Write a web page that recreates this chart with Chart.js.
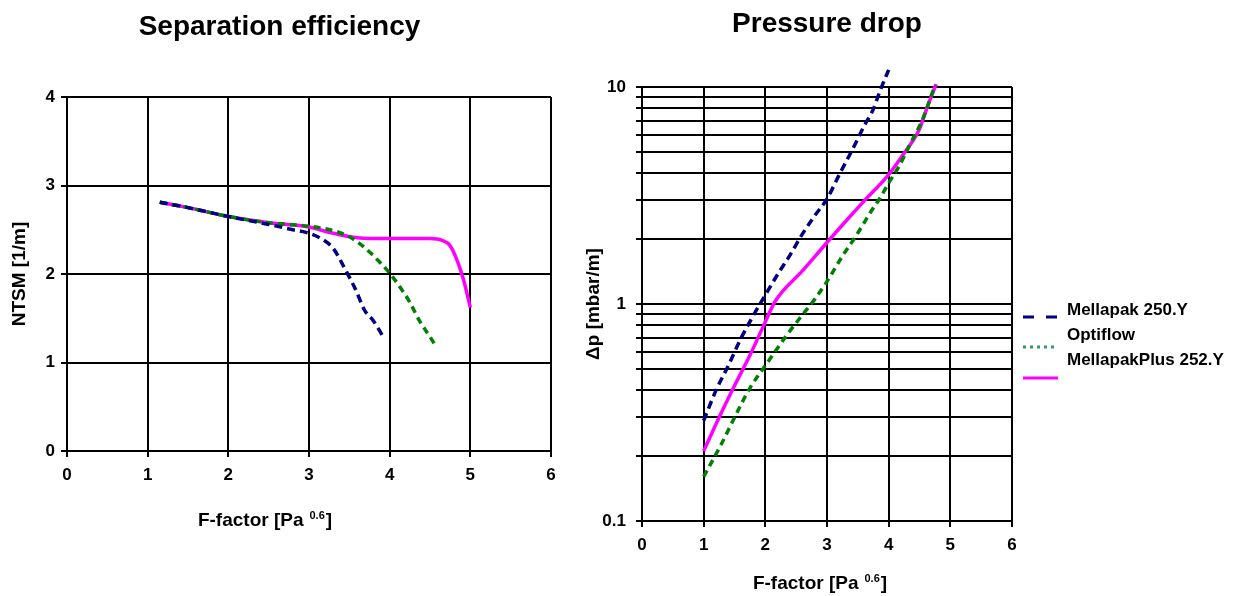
<!DOCTYPE html>
<html>
<head>
<meta charset="utf-8">
<script src="https://cdn.jsdelivr.net/npm/chart.js@4.4.1/dist/chart.umd.min.js"></script>
<style>
html, body { margin: 0; padding: 0; background: #fff; }
#wrap { position: relative; width: 1238px; height: 596px; overflow: hidden; }
#grafica_1 { position: absolute; left: 0; top: 0; }
#grafica_2 { position: absolute; left: 572px; top: 0; }
</style>
</head>
<body>
<div id="wrap">
  <canvas id="grafica_1" width="600" height="596"></canvas>
  <canvas id="grafica_2" width="666" height="596"></canvas>
</div>
<script>
var fam = 'Arial, "Liberation Sans", Helvetica, sans-serif';
Chart.defaults.font.family = fam;
Chart.defaults.color = '#000';
Chart.defaults.animation = false;

var seriesNames = ['Mellapak 250.Y', 'Optiflow', 'MellapakPlus 252.Y'];

// Separation efficiency: F-factor -> NTSM [1/m]
var effF_250 = [1.15, 1.5, 2.0, 2.5, 2.8, 3.0, 3.15, 3.3, 3.45, 3.57, 3.69, 3.8, 3.92];
var effN_250 = [2.81, 2.75, 2.65, 2.56, 2.50, 2.46, 2.40, 2.29, 2.05, 1.84, 1.59, 1.47, 1.29];
var effF_opt = [1.15, 1.5, 2.0, 2.5, 3.0, 3.3, 3.5, 3.7, 3.88, 4.0, 4.13, 4.25, 4.37, 4.5, 4.58];
var effN_opt = [2.81, 2.75, 2.65, 2.58, 2.54, 2.49, 2.42, 2.29, 2.13, 2.01, 1.85, 1.68, 1.47, 1.29, 1.17];
var effF_252 = [1.15, 1.5, 2.0, 2.5, 3.0, 3.3, 3.6, 4.0, 4.5, 4.65, 4.75, 4.85, 4.92, 5.0];
var effN_252 = [2.81, 2.75, 2.65, 2.58, 2.53, 2.46, 2.41, 2.40, 2.40, 2.38, 2.32, 2.12, 1.92, 1.62];

// Pressure drop: F-factor -> dp [mbar/m]
var dpF_250 = [1.0, 1.2, 1.4, 1.6, 1.8, 2.0, 2.2, 2.4, 2.6, 2.8, 3.0, 3.2, 3.45, 3.6, 3.75, 3.86, 4.0];
var dpP_250 = [0.29, 0.40, 0.52, 0.69, 0.88, 1.10, 1.37, 1.68, 2.10, 2.55, 3.05, 3.95, 5.4, 6.6, 7.9, 9.6, 12.0];
var dpF_opt = [1.0, 1.3, 1.55, 1.75, 2.0, 2.35, 2.6, 2.8, 3.0, 3.26, 3.48, 3.7, 3.86, 4.02, 4.18, 4.34, 4.56, 4.72, 4.76];
var dpP_opt = [0.16, 0.23, 0.32, 0.41, 0.52, 0.72, 0.89, 1.05, 1.27, 1.68, 2.08, 2.63, 3.08, 3.69, 4.37, 5.4, 7.2, 9.6, 10.2];
var dpF_252 = [1.0, 1.25, 1.5, 1.75, 1.95, 2.16, 2.6, 3.0, 3.3, 3.6, 4.0, 4.23, 4.5, 4.62, 4.77];
var dpP_252 = [0.21, 0.30, 0.42, 0.58, 0.77, 1.03, 1.42, 1.92, 2.40, 2.98, 3.95, 4.86, 6.4, 8.0, 10.3];

// axis ticks
var fTicks = [0, 1, 2, 3, 4, 5, 6];
var effTicks = [0, 1, 2, 3, 4];
var dpTicks = [0.1, 0.2, 0.3, 0.4, 0.5, 0.6, 0.7, 0.8, 0.9, 1, 2, 3, 4, 5, 6, 7, 8, 9, 10];
var dpLabels = [0.1, 1, 10];

function pts(xs, ys) {
    return xs.map(function (x, i) { return { x: x, y: ys[i] }; });
}
function setTicks(list) {
    return function (scale) {
        scale.ticks = list.map(function (v) { return { value: v }; });
    };
}

// x-axis title with the small raised exponent
var fTitle = {
    id: 'fTitle',
    afterDraw: function (chart, args, o) {
        var ctx = chart.ctx, area = chart.chartArea;
        ctx.save();
        ctx.fillStyle = '#000';
        ctx.textBaseline = 'alphabetic';
        ctx.textAlign = 'left';
        ctx.font = 'bold 19px ' + fam;
        var w1 = ctx.measureText(o.text).width;
        var w3 = ctx.measureText(']').width;
        ctx.font = 'bold 11px ' + fam;
        var w2 = ctx.measureText(o.sup).width;
        var x = area.left + o.dx - (w1 + 6 + w2 + 1 + w3) / 2;
        var y = area.bottom + o.dy;
        ctx.font = 'bold 19px ' + fam;
        ctx.fillText(o.text, x, y);
        ctx.font = 'bold 11px ' + fam;
        ctx.fillText(o.sup, x + w1 + 6, y - 7);
        ctx.font = 'bold 19px ' + fam;
        ctx.fillText(']', x + w1 + 6 + w2 + 1, y);
        ctx.restore();
    }
};

// legend to the right of the pressure drop chart
var sideLegend = {
    id: 'sideLegend',
    afterDraw: function (chart, args, o) {
        var ctx = chart.ctx, area = chart.chartArea;
        chart.data.datasets.forEach(function (ds, i) {
            var x0 = area.right + o.dx;
            ctx.save();
            ctx.strokeStyle = ds.legendColor;
            ctx.lineWidth = 3;
            ctx.setLineDash(ds.legendDash);
            ctx.beginPath();
            ctx.moveTo(x0, o.lineY[i]);
            ctx.lineTo(x0 + o.len, o.lineY[i]);
            ctx.stroke();
            ctx.setLineDash([]);
            ctx.fillStyle = '#000';
            ctx.font = 'bold 17px ' + fam;
            ctx.textBaseline = 'middle';
            ctx.fillText(ds.label, area.right + o.textDx, o.textY[i]);
            ctx.restore();
        });
    }
};

var gridOpts = { color: '#000', lineWidth: 2, tickLength: 6, tickColor: '#000' };
var tickFont = { size: 17, weight: 'bold' };

function lineSet(i, data, color, dash, lColor, lDash) {
    return {
        label: seriesNames[i],
        data: data,
        borderColor: color,
        borderWidth: 3.5,
        borderDash: dash,
        borderCapStyle: 'butt',
        pointRadius: 0,
        fill: false,
        cubicInterpolationMode: 'monotone',
        clip: false,
        legendColor: lColor,
        legendDash: lDash
    };
}

var gx1 = document.getElementById('grafica_1').getContext('2d');
var chart1 = new Chart(gx1, {
    type: 'line',
    data: {
        datasets: [
            lineSet(0, pts(effF_250, effN_250), '#000080', [8, 5], '#000080', [11, 12]),
            lineSet(1, pts(effF_opt, effN_opt), '#008000', [7, 5], '#339966', [3, 4]),
            lineSet(2, pts(effF_252, effN_252), '#ff00ff', [], '#ff00ff', [])
        ]
    },
    options: {
        responsive: false,
        layout: { padding: { left: 8, right: 49, top: 0, bottom: 0 } },
        plugins: {
            legend: { display: false },
            tooltip: { enabled: false },
            title: {
                display: true,
                text: 'Separation efficiency',
                font: { size: 28, weight: 'bold' },
                padding: { top: 10, bottom: 53.4 }
            },
            fTitle: { text: 'F-factor [Pa', sup: '0.6', dx: 198, dy: 75 }
        },
        scales: {
            x: {
                type: 'linear', min: 0, max: 6,
                afterBuildTicks: setTicks(fTicks),
                afterFit: function (s) { s.height = 145; },
                grid: gridOpts,
                border: { color: '#000', width: 2 },
                ticks: { font: tickFont, padding: 8, maxRotation: 0 }
            },
            y: {
                type: 'linear', min: 0, max: 4,
                afterBuildTicks: setTicks(effTicks),
                afterFit: function (s) { s.width = 59; },
                grid: gridOpts,
                border: { color: '#000', width: 2 },
                ticks: { font: tickFont, padding: 6 },
                title: {
                    display: true, text: 'NTSM [1/m]',
                    font: { size: 19, weight: 'bold' },
                    padding: { top: 0, bottom: 0 }
                }
            }
        }
    },
    plugins: [fTitle]
});

var gx2 = document.getElementById('grafica_2').getContext('2d');
var chart2 = new Chart(gx2, {
    type: 'line',
    data: {
        datasets: [
            lineSet(0, pts(dpF_250, dpP_250), '#000080', [8, 5], '#000080', [11, 12]),
            lineSet(1, pts(dpF_opt, dpP_opt), '#008000', [7, 5], '#339966', [3, 4]),
            lineSet(2, pts(dpF_252, dpP_252), '#ff00ff', [], '#ff00ff', [])
        ]
    },
    options: {
        responsive: false,
        layout: { padding: { left: 0, right: 226, top: 0, bottom: 0 } },
        plugins: {
            legend: { display: false },
            tooltip: { enabled: false },
            title: {
                display: true,
                fullSize: false,
                text: 'Pressure drop',
                font: { size: 28, weight: 'bold' },
                padding: { top: 7, bottom: 46.4 }
            },
            fTitle: { text: 'F-factor [Pa', sup: '0.6', dx: 178, dy: 68 },
            sideLegend: {
                dx: 11, len: 35, textDx: 55,
                lineY: [317, 347, 378],
                textY: [310, 335, 360]
            }
        },
        scales: {
            x: {
                type: 'linear', min: 0, max: 6,
                afterBuildTicks: setTicks(fTicks),
                afterFit: function (s) { s.height = 75; },
                grid: gridOpts,
                border: { color: '#000', width: 2 },
                ticks: { font: tickFont, padding: 8, maxRotation: 0 }
            },
            y: {
                type: 'logarithmic', min: 0.1, max: 10,
                afterBuildTicks: setTicks(dpTicks),
                afterFit: function (s) { s.width = 70; },
                grid: gridOpts,
                border: { color: '#000', width: 2 },
                ticks: {
                    font: tickFont, padding: 10, autoSkip: false,
                    callback: function (v) {
                        return dpLabels.indexOf(v) >= 0 ? String(v) : '';
                    }
                },
                title: {
                    display: true, text: 'Δp [mbar/m]',
                    font: { size: 19, weight: 'bold' },
                    padding: { top: 10, bottom: 0 }
                }
            }
        }
    },
    plugins: [fTitle, sideLegend]
});
</script>
</body>
</html>
